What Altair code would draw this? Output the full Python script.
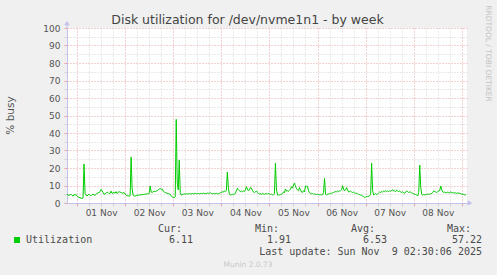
import altair as alt
import pandas as pd

# ---- data (30-minute samples) ----
start_time = "2025-10-31T19:00:00Z"
step_minutes = 30
utilization = [
    5.0, 4.6, 4.3, 4.8, 5.0, 4.4, 4.0, 4.6, 4.8, 4.5, 4.2, 3.5, 3.2, 3.0, 2.8, 2.6, 2.9,
    22.3, 5.5, 4.5, 4.0, 4.6, 5.0, 4.3, 4.2, 4.8, 5.0, 4.6, 4.5, 5.0, 5.5, 5.8, 6.0, 6.5,
    7.8, 7.0, 6.0, 5.0, 5.2, 5.5, 6.2, 6.0, 5.4, 5.5, 6.8, 5.5, 5.8, 6.0, 5.6, 6.5, 5.5,
    6.0, 6.5, 6.2, 6.0, 5.6, 5.8, 6.0, 5.0, 4.5, 4.2, 4.0, 4.0, 4.1, 26.2, 8.0, 4.5, 4.0,
    4.0, 4.2, 4.3, 4.6, 4.5, 4.6, 4.8, 4.7, 4.9, 5.0, 5.1, 5.0, 5.3, 5.2, 5.5, 9.7, 6.3,
    6.0, 6.5, 6.7, 6.6, 6.8, 7.0, 7.6, 8.0, 8.2, 7.8, 7.9, 6.8, 6.3, 6.0, 5.8, 5.5, 5.3,
    5.2, 5.0, 4.0, 3.5, 3.2, 3.0, 3.5, 47.8, 12.0, 7.5, 24.5, 6.0, 4.5, 4.8, 5.0, 5.2, 5.0,
    5.3, 5.1, 5.2, 5.4, 5.3, 5.1, 5.5, 5.2, 5.3, 5.6, 5.3, 5.4, 5.5, 5.2, 5.4, 5.5, 5.3,
    5.6, 5.4, 5.5, 5.2, 5.8, 5.5, 5.6, 6.0, 5.4, 5.2, 5.5, 5.3, 5.4, 5.6, 5.2, 5.3, 5.5,
    5.8, 6.0, 6.4, 6.2, 6.9, 6.5, 7.0, 17.7, 9.0, 5.0, 4.6, 4.8, 5.0, 4.6, 5.2, 5.5, 7.0,
    8.4, 7.6, 7.0, 6.5, 6.8, 6.4, 6.9, 6.5, 7.5, 9.3, 8.0, 6.9, 7.5, 8.8, 8.6, 7.2, 6.3,
    6.0, 6.3, 6.9, 6.0, 5.5, 5.2, 5.3, 5.0, 5.4, 5.2, 5.0, 5.3, 5.5, 5.0, 5.6, 5.2, 4.8,
    5.0, 4.6, 4.8, 5.2, 22.7, 8.0, 4.6, 4.6, 4.5, 4.8, 5.0, 5.3, 6.3, 6.0, 8.0, 6.8, 7.0,
    6.7, 7.2, 7.8, 9.3, 8.5, 10.2, 11.4, 9.5, 8.3, 7.5, 7.0, 8.8, 7.5, 6.3, 6.0, 7.0, 6.3,
    9.7, 9.5, 9.5, 7.0, 5.8, 5.5, 5.3, 5.4, 5.0, 5.2, 5.0, 4.9, 5.0, 4.8, 4.7, 4.8, 4.6,
    4.6, 6.0, 14.1, 5.0, 4.6, 5.0, 5.2, 5.3, 5.6, 5.5, 5.8, 6.0, 6.3, 6.6, 6.4, 6.8, 6.5,
    6.9, 7.0, 7.5, 9.9, 8.0, 6.9, 7.5, 8.8, 7.5, 6.3, 6.5, 6.8, 6.3, 6.0, 6.2, 5.8, 5.5,
    5.6, 5.3, 5.0, 4.8, 4.5, 4.4, 4.0, 3.6, 3.2, 3.4, 3.8, 3.6, 3.9, 4.2, 5.0, 22.7, 7.0,
    4.6, 5.0, 5.3, 4.8, 5.2, 5.8, 6.3, 6.0, 6.5, 6.3, 6.8, 6.5, 7.0, 6.6, 6.9, 6.4, 7.0,
    6.8, 7.2, 7.6, 6.8, 7.0, 6.5, 7.3, 6.9, 6.5, 6.8, 6.3, 6.0, 6.4, 5.8, 5.5, 6.3, 6.9,
    6.5, 6.0, 6.2, 6.3, 5.8, 5.5, 5.3, 5.0, 4.8, 4.6, 4.0, 6.0, 21.7, 9.0, 5.0, 4.6, 4.8,
    4.6, 5.0, 4.8, 5.2, 4.9, 5.0, 5.3, 5.5, 6.0, 6.9, 6.6, 6.3, 6.0, 6.5, 6.9, 7.2, 9.7,
    7.5, 6.3, 6.0, 6.3, 5.8, 6.0, 6.2, 6.0, 5.8, 6.3, 6.0, 5.8, 5.9, 5.6, 5.8, 5.5, 5.8,
    5.6, 5.5, 5.3, 5.0, 5.2, 4.8, 4.6, 4.8,
]

title_text = "Disk utilization for /dev/nvme1n1 - by week"
y_title = "% busy"
series_name = "Utilization"
stat_names = ["Cur:", "Min:", "Avg:", "Max:"]
stat_values = ["6.11", "1.91", "6.53", "57.22"]
last_update = "Last update: Sun Nov\u00a0 9 02:30:06 2025"
watermark = "RRDTOOL / TOBI OETIKER"
footer = "Munin 2.0.73"

# ---- build table ----
t0 = pd.Timestamp(start_time)
times = [t0 + pd.Timedelta(minutes=step_minutes * i) for i in range(len(utilization))]
df = pd.DataFrame({
    "time": [t.strftime("%Y-%m-%dT%H:%M:%SZ") for t in times],
    "util": utilization,
})

dom_start_ts = pd.Timestamp("2025-10-31T19:00:00Z")
dom_end_ts = pd.Timestamp("2025-11-09T02:35:00Z")


def ms(ts):
    return int(ts.value // 10**6)


grid_ticks = [ms(t) for t in pd.date_range("2025-11-01T00:00:00Z", "2025-11-09T00:00:00Z", freq="6h")]

MAJOR = "#e9a3a3"
MINOR = "#d2d2d2"
AXIS = "#c2c2ec"
GREEN = "#00CC00"
TXT = "#4a4a4a"

x_axis = alt.Axis(
    values=grid_ticks,
    grid=True,
    gridColor={"condition": {"test": "utchours(datum.value) == 0", "value": MAJOR}, "value": MINOR},
    gridDash=[1, 2],
    tickColor={"condition": {"test": "utchours(datum.value) == 0", "value": MAJOR}, "value": MINOR},
    tickSize=3,
    domainColor=AXIS,
    labelExpr="utchours(datum.value) == 12 ? utcFormat(datum.value, '%d %b') : ''",
    labelFont="DejaVu Sans", labelFontSize=9, labelColor="#555555",
    labelPadding=2, labelOverlap=False, labelFlush=False,
    title=None,
)

y_axis = alt.Axis(
    values=list(range(0, 101, 5)),
    grid=True,
    gridColor={"condition": {"test": "datum.value % 10 == 0", "value": MAJOR}, "value": MINOR},
    gridDash=[1, 2],
    tickColor={"condition": {"test": "datum.value % 10 == 0", "value": MAJOR}, "value": MINOR},
    tickSize=3,
    domainColor=AXIS,
    labelExpr="datum.value % 10 == 0 ? datum.label : ''",
    labelFont="DejaVu Sans", labelFontSize=9, labelColor="#555555",
    labelPadding=4, labelOverlap=False,
    title=None,
)

X = alt.X("time:T", scale=alt.Scale(type="utc", domain=[ms(dom_start_ts), ms(dom_end_ts)]), axis=x_axis)
Y = alt.Y("util:Q", scale=alt.Scale(domain=[0, 100], nice=False), axis=y_axis)

line = alt.Chart(df).mark_line(color=GREEN, strokeWidth=1, clip=True).encode(x=X, y=Y)

one = pd.DataFrame({"k": [0]})


def txt(text, x, y, size, font="DejaVu Sans", color=TXT, align="left", angle=0, baseline="alphabetic"):
    return alt.Chart(one).mark_text(
        text=text, font=font, fontSize=size, color=color, align=align,
        baseline=baseline, angle=angle,
    ).encode(x=alt.value(x), y=alt.value(y))


arrow_df_top = pd.DataFrame({"time": ["2025-10-31T19:00:00Z"], "util": [100]})
arrow_df_right = pd.DataFrame({"time": ["2025-11-09T02:35:00Z"], "util": [0]})
arrow_top = alt.Chart(arrow_df_top).mark_point(
    shape="triangle-up", filled=True, color=AXIS, size=30, opacity=1, yOffset=-5, strokeWidth=0
).encode(x=X, y=Y)
arrow_right = alt.Chart(arrow_df_right).mark_point(
    shape="triangle-right", filled=True, color=AXIS, size=30, opacity=1, xOffset=3, strokeWidth=0
).encode(x=X, y=Y)
top_stub = alt.Chart(arrow_df_top).mark_rule(color=AXIS, strokeWidth=1).encode(
    x=X, y=Y, y2=alt.Y2value(-4) if hasattr(alt, "Y2value") else alt.value(-4)
)

MONO = "DejaVu Sans Mono"
layers = [
    line,
    top_stub,
    arrow_top,
    arrow_right,
    txt(title_text, 180.5, -4, 12.5, color="#444444", align="center"),
    txt(y_title, -56, 87.5, 10.5, color="#555555", align="center", angle=270, baseline="middle"),
    txt(watermark, 421, 25.5, 7.5, color="#c4c4c4", align="center", angle=90, baseline="middle"),
    txt(footer, 181, 238.5, 7.5, color="#c8c8c8", align="center"),
    alt.Chart(one).mark_square(color=GREEN, size=36, opacity=1).encode(x=alt.value(-50), y=alt.value(212)),
    txt(series_name, -41, 215, 10, font=MONO),
]
head_x = [91, 188, 284, 380]
val_x = [126, 224, 320, 415]
for name, hx, val, vx in zip(stat_names, head_x, stat_values, val_x):
    layers.append(txt(name, hx, 204, 10, font=MONO))
    layers.append(txt(val, vx, 215, 10, font=MONO, align="right"))
layers.append(txt(last_update, 415, 227, 10, font=MONO, align="right"))

chart = alt.layer(*layers).properties(
    width=400, height=175,
    padding={"left": 67, "top": 28, "right": 30, "bottom": 72},
    autosize="none",
    background="#F0F0F0",
).configure_view(fill="white", stroke=None)

chart.save("out.html", embed_options={"renderer": "svg", "actions": False})
